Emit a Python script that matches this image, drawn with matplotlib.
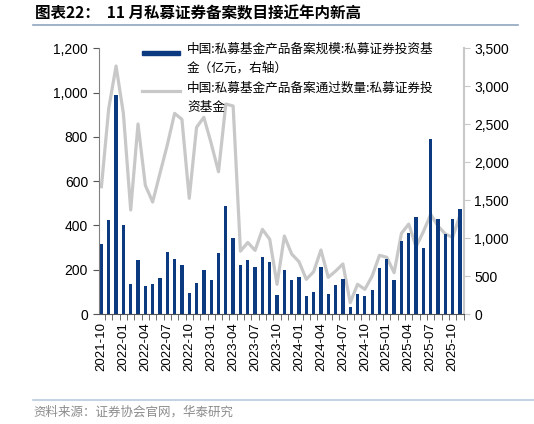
import numpy as np
import matplotlib.pyplot as plt
from matplotlib.lines import Line2D
from matplotlib.patches import Rectangle
from matplotlib.ticker import FuncFormatter, FixedLocator

plt.rcParams['font.family'] = ['Liberation Sans', 'Noto Sans CJK SC', 'DejaVu Sans']

# meses 2021-10 .. 2025-11
meses = []
for a in range(2021, 2026):
    for m in range(1, 13):
        if (a == 2021 and m < 10) or (a == 2025 and m > 11):
            continue
        meses.append(f'{a}-{m:02d}')

# 备案规模 (亿元)
escala = [315, 423, 989, 400, 137, 242, 126, 134, 164, 281,
          250, 221, 96, 141, 199, 152, 277, 488, 345, 223,
          245, 211, 259, 235, 84, 199, 154, 169, 83, 98,
          212, 89, 132, 157, 33, 90, 81, 108, 209, 247,
          152, 330, 366, 438, 299, 792, 428, 360, 429, 476]

# 备案通过数量 (只)
numero = [1677, 2709, 3267, 2643, 1370, 2503, 1695, 1475, 1853, 2226,
          2643, 2564, 1524, 2459, 2591, 2248, 1874, 2766, 2740, 828,
          942, 838, 1115, 984, 391, 1027, 790, 689, 457, 557,
          843, 483, 565, 659, 149, 391, 325, 500, 773, 747,
          544, 1063, 1185, 887, 1084, 1313, 1159, 1054, 1010, 1304]

lab_barra = '中国:私募基金产品备案规模:私募证券投资基\n金（亿元，右轴）'
lab_linea = '中国:私募基金产品备案通过数量:私募证券投\n资基金'
titulo = '图表22：  11 月私募证券备案数目接近年内新高'
fuente = '资料来源：证券协会官网，华泰研究'

azul = '#0B3A80'
gris = '#C8C8C8'
cjk = ['Noto Sans CJK SC', 'DejaVu Sans']

fig = plt.figure(figsize=(5.34, 4.24), dpi=100)
ax = fig.add_axes([98.5 / 534, 1 - 314 / 424, (464 - 98.5) / 534, (314 - 48.3) / 424])
ax2 = ax.twinx()

x = np.arange(len(meses))
ax.bar(x, escala, width=0.45, color=azul, zorder=2)
ax2.plot(x, numero, color=gris, lw=2.3, zorder=3)
ax.set_zorder(ax2.get_zorder() + 1)
ax.patch.set_visible(False)

ax.set_xlim(-0.4, 49.55)
ax.set_ylim(0, 1200)
ax2.set_ylim(0, 3500)
ax.set_yticks(np.arange(0, 1201, 200))
ax2.set_yticks(np.arange(0, 3501, 500))
fmt = FuncFormatter(lambda v, p: f'{int(v):,}')
ax.yaxis.set_major_formatter(fmt)
ax2.yaxis.set_major_formatter(fmt)

ax.set_xticks(x[::3])
ax.set_xticklabels(meses[::3], rotation=90)
ax.xaxis.set_minor_locator(FixedLocator(np.arange(-0.5, 50, 1)))
ax.tick_params(axis='x', which='major', length=0, pad=6, labelsize=9.5)
ax.tick_params(axis='x', which='minor', length=4, color='#555555')
ax.tick_params(axis='y', length=4, color='#555555', labelsize=10)
ax2.tick_params(axis='y', length=4, color=gris, labelsize=10)

for s in ['top', 'right']:
    ax.spines[s].set_visible(False)
for s in ['top', 'left', 'bottom']:
    ax2.spines[s].set_visible(False)
ax.spines['left'].set_color('#808080')
ax.spines['bottom'].set_color('#555555')
ax2.spines['right'].set_color(gris)
ax2.spines['right'].set_linewidth(1.5)

# leyenda manual (marcas alineadas con la primera linea del texto)
tr = ax.transAxes
def px(xp, yp):
    return ((xp - 98.5) / (464 - 98.5), (314 - yp) / (314 - 48.3))

x0, y0 = px(141.5, 53)
x1, _ = px(180, 53)
ax.add_patch(Rectangle((x0, y0 - 0.009), x1 - x0, 0.018, transform=tr,
                       color=azul, clip_on=False, zorder=5))
xa, ya = px(141.5, 91)
xb, _ = px(180, 91)
ax.add_line(Line2D([xa, xb], [ya, ya], transform=tr, color=gris, lw=2.3,
                   clip_on=False, zorder=5))
ax.text(*px(187, 43), lab_barra, transform=tr, va='top', ha='left',
        fontsize=9.1, family=cjk, linespacing=1.55, zorder=5)
ax.text(*px(187, 82), lab_linea, transform=tr, va='top', ha='left',
        fontsize=9.1, family=cjk, linespacing=1.55, zorder=5)

# titulo y fuente
fig.text(35 / 534, 1 - 13 / 424, titulo, fontsize=11.2, fontweight='bold',
         family=cjk, va='center', ha='left')
fig.add_artist(Line2D([33 / 534, 518 / 534], [1 - 25 / 424, 1 - 25 / 424],
                      color='#8FA5BF', lw=1.2))
fig.add_artist(Line2D([33 / 534, 1.0], [1 - 399.5 / 424, 1 - 399.5 / 424],
                      color='#B8CCE0', lw=1.2))
fig.text(33 / 534, 1 - 412 / 424, fuente, fontsize=9, color='#8C8C8C',
         family=cjk, va='center', ha='left')

plt.savefig('out.png', dpi=100)
plt.close(fig)
